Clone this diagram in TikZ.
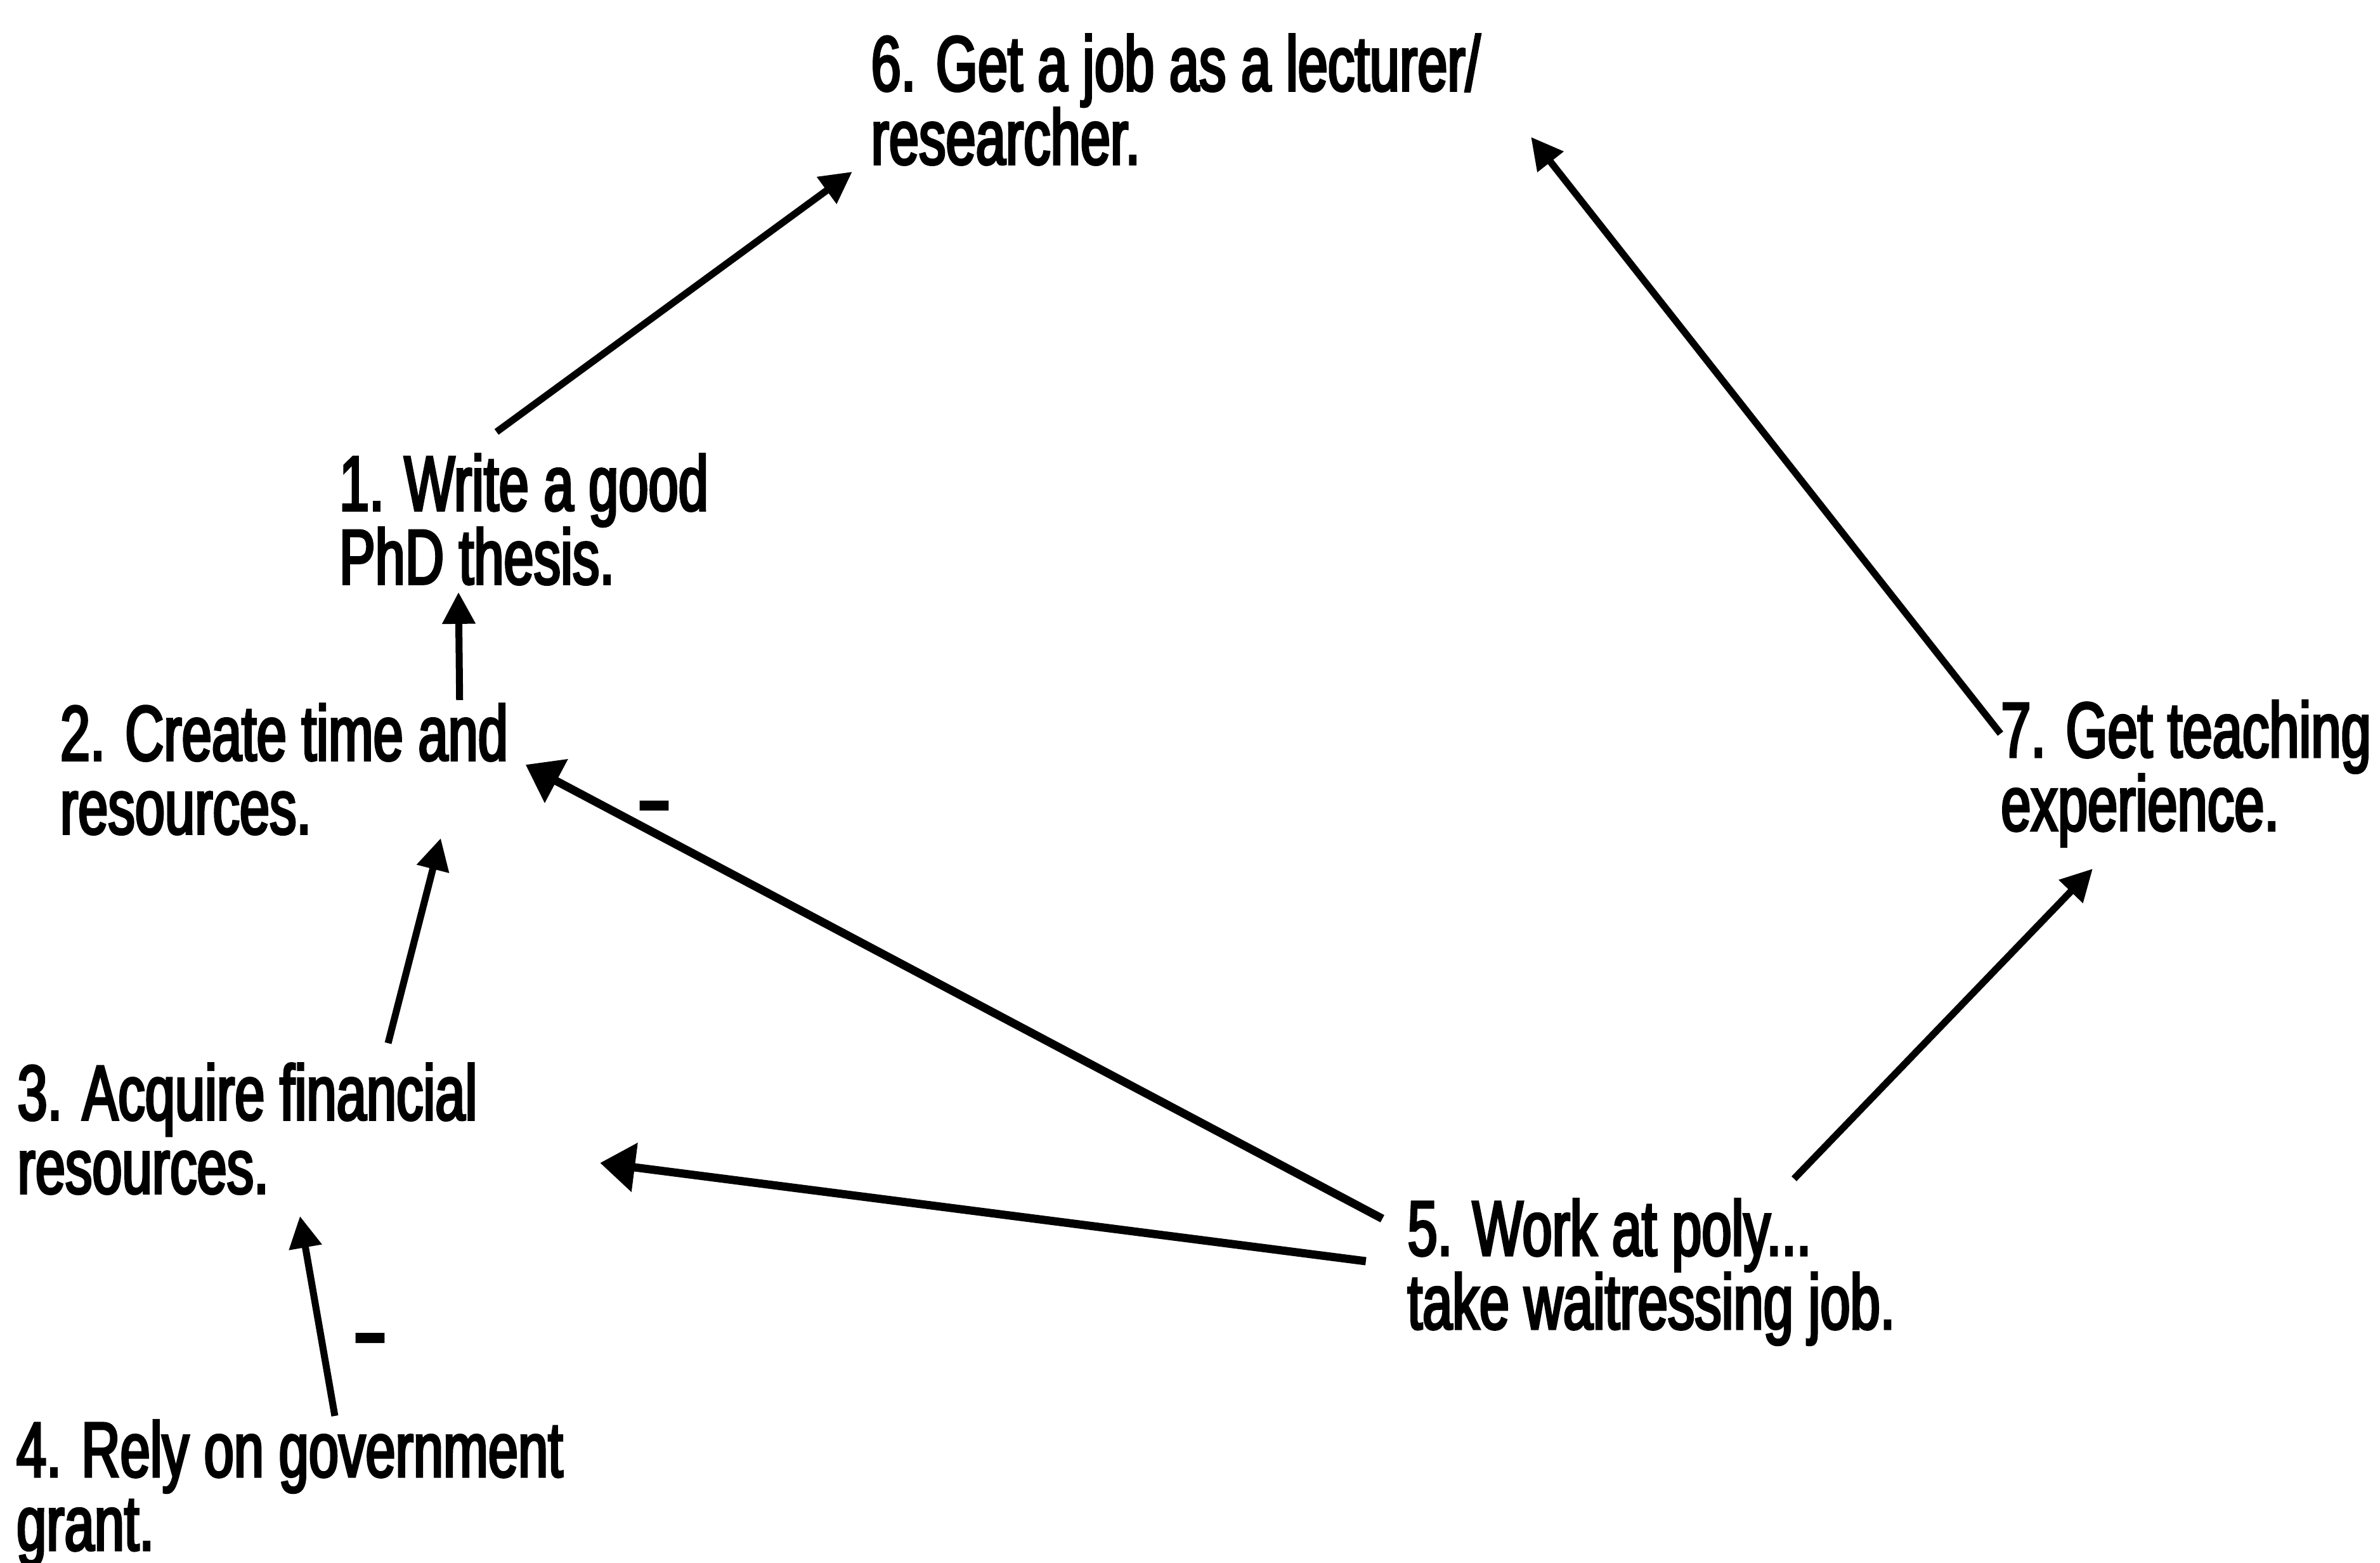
\documentclass[tikz,border=0pt]{standalone}
\usepackage{fontspec}
\setmainfont{Liberation Sans}[FakeStretch=0.69,FakeBold=3]
\usetikzlibrary{arrows.meta}
\setlength{\lineskiplimit}{-30pt}
\begin{document}
\begin{tikzpicture}[stepnode/.style={align=left, inner sep=0pt, font=\fontsize{35}{33}\selectfont},cause/.style={line width=1.1mm, -{Triangle[length=5mm,width=5mm]}},strongcause/.style={line width=1.3mm, -{Triangle[length=5.5mm,width=7.5mm]}},sign/.style={inner sep=0pt, font=\fontsize{35}{33}\selectfont\bfseries},]
                    \useasboundingbox (0,0) rectangle (37.53,-24.64);
                    \node[stepnode] (n2) at (4.48,-12.13) {2. Create time and\\resources.};
                    \node[stepnode, above of=n2, xshift=3.78cm, yshift=2.94cm] (n1) {1. Write a good\\PhD thesis.};
                    \node[stepnode, below of=n2, xshift=-0.58cm, yshift=-4.67cm] (n3) {3. Acquire financial\\resources.};
                    \node[stepnode, below of=n3, xshift=0.67cm, yshift=-4.75cm] (n4) {4. Rely on government\\grant.};
                    \node[stepnode, right of=n3, xshift=21.14cm, yshift=-2.26cm] (n5) {5. Work at poly...\\take waitressing job.};
                    \node[stepnode, right of=n2, xshift=28.99cm, yshift=-0.07cm] (n7) {7. Get teaching\\experience.};
                    \node[stepnode, above of=n1, xshift=10.28cm, yshift=5.62cm] (n6) {6. Get a job as a lecturer/\\researcher.};
                    \draw[cause] ([shift={(-0.43,0.34)}]n1.north) -- ([shift={(-0.29,-0.10)}]n6.south west);
                    \draw[cause] ([shift={(-0.77,0.05)}]n2.north east) -- ([shift={(-1.03,-0.11)}]n1.south);
                    \draw[cause] ([shift={(2.22,0.31)}]n3.north) -- ([shift={(2.47,-0.05)}]n2.south);
                    \draw[cause] ([shift={(0.71,0.06)}]n4.north) -- node[sign, pos=0.39, xshift=7.7mm, yshift=-1.35mm] {--} ([shift={(0.83,-0.34)}]n3.south);
                    \draw[strongcause] ([shift={(-0.39,-0.32)}]n5.north west) -- node[sign, pos=0.85, yshift=2.95mm] {--} ([shift={(0.27,0.07)}]n2.east);
                    \draw[strongcause] ([shift={(-0.65,0.17)}]n5.west) -- ([shift={(1.93,-0.54)}]n3.east);
                    \draw[cause] ([shift={(2.25,0.31)}]n5.north) -- ([shift={(-1.47,-0.34)}]n7.south);
                    \draw[cause] ([shift={(0,-0.53)}]n7.north west) -- ([shift={(0.79,-0.59)}]n6.east);
                \end{tikzpicture}
\end{document}
